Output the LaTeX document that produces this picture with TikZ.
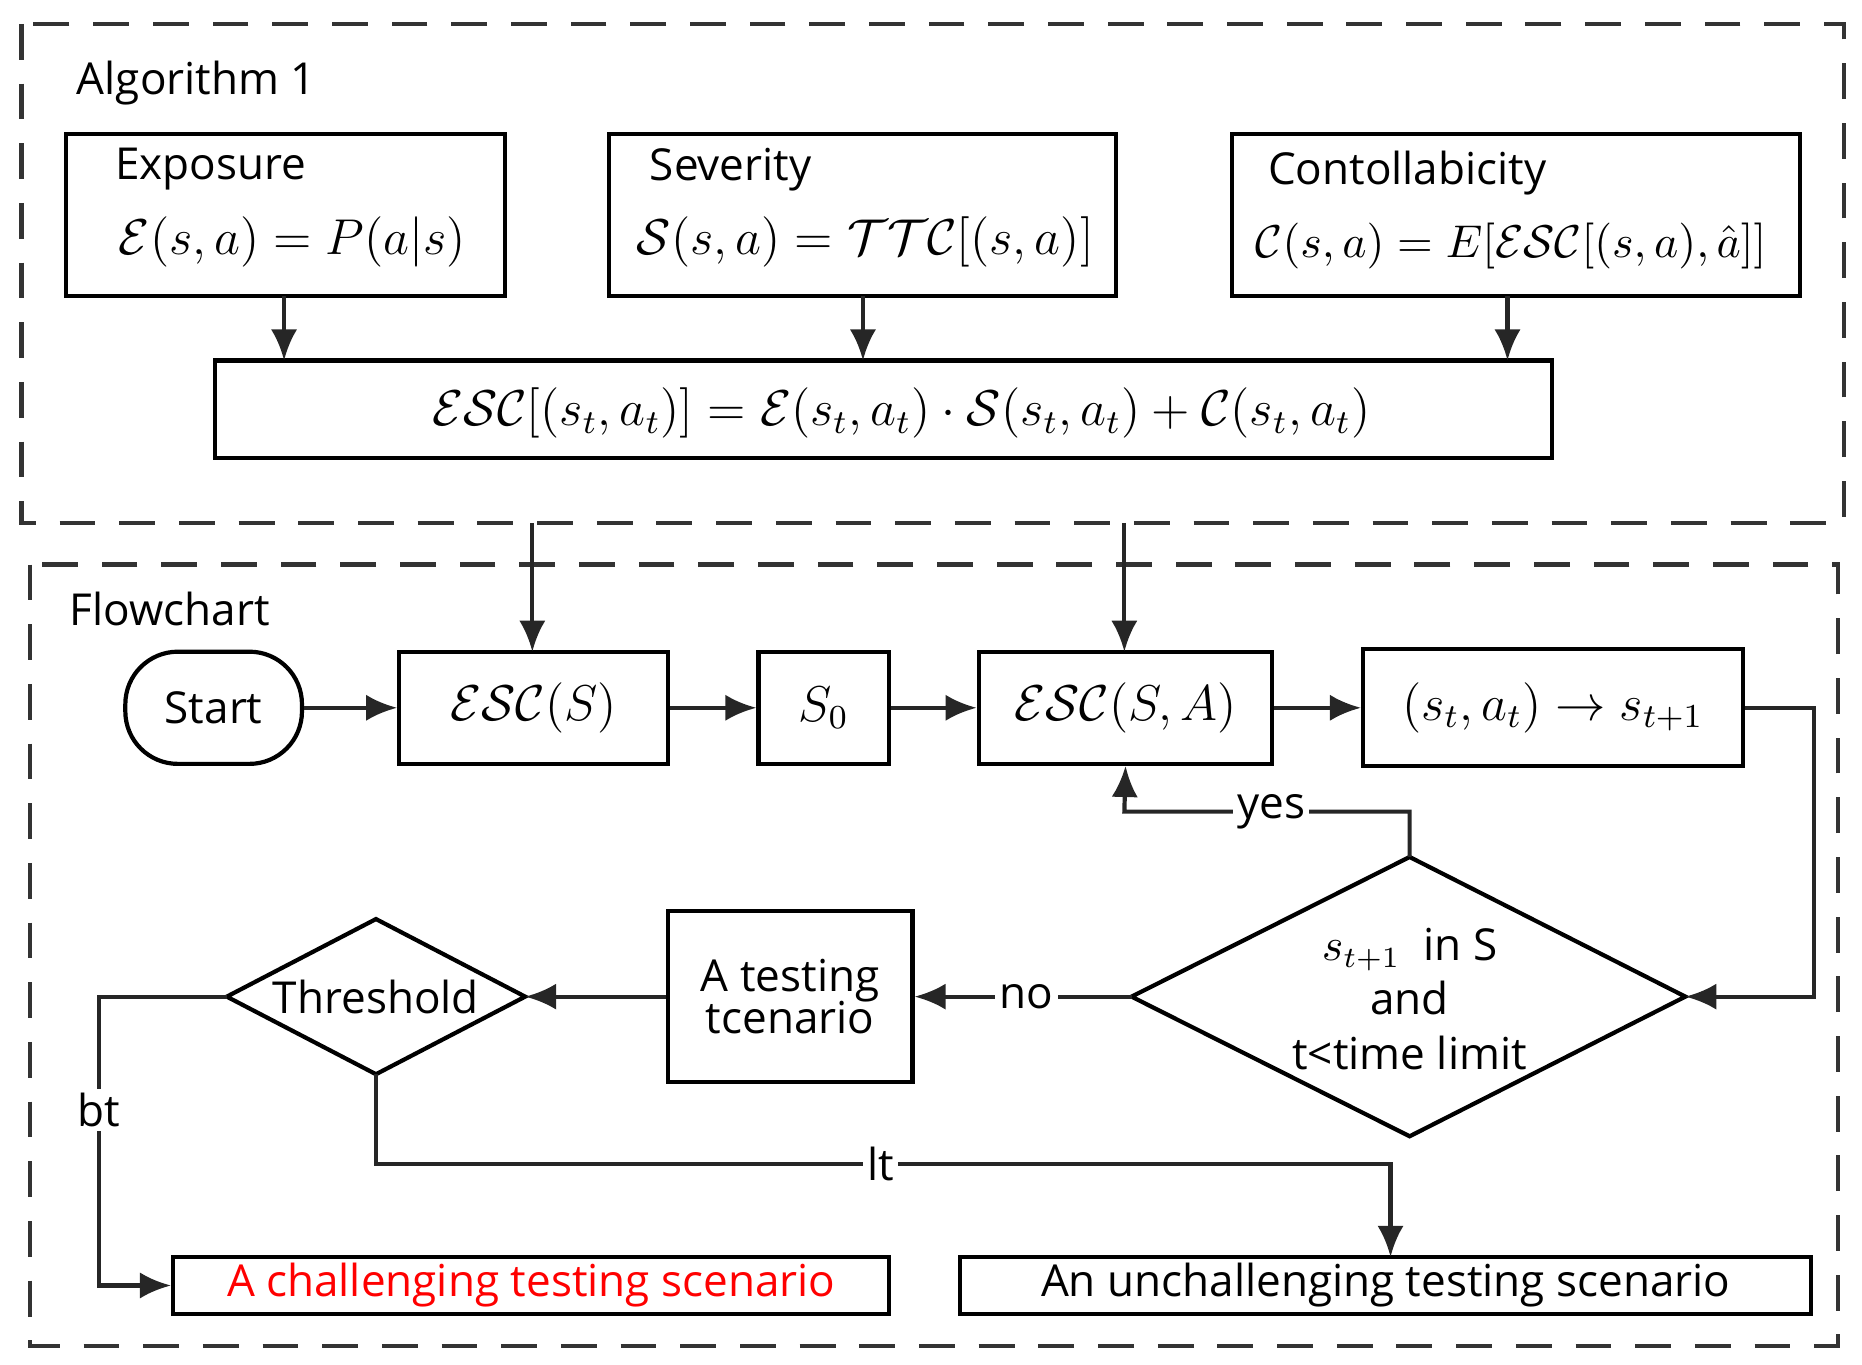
\documentclass[tikz,border=0pt]{standalone}
\usepackage{amsmath}
\usepackage{fontspec}
\setmainfont{Open Sans}
\usetikzlibrary{shapes.geometric,arrows.meta}
\begin{document}
\begin{tikzpicture}[x=0.1mm,y=-0.1mm,
  every node/.style={font=\fontsize{10.5}{12}\selectfont},
  box/.style={draw,line width=1pt,inner sep=0pt},
  ln/.style={line width=1pt,draw=black!85},
  ar/.style={ln,-{Latex[length=2.6mm,width=2.2mm]}},
  frame/.style={line width=1pt,dash pattern=on 3mm off 2mm,draw=black!80},
  lab/.style={fill=white,inner sep=1pt},
  fm/.style={font=\fontsize{12}{14}\selectfont}]
\useasboundingbox (0,0) rectangle (1560,1143);
\draw[frame] (18,20) rectangle (1545,438);
\draw[frame] (25,473) rectangle (1540,1128);
\node[anchor=west] (alg) at (52,70) {Algorithm 1};
\node[anchor=west] (flow) at (46,510) {Flowchart};
% top boxes
\draw[box] (55,112) rectangle (423,248);
\node[anchor=west] (ex) at (84,142) {Exposure};
\node[fm] (exf) at (245,203) {$\mathcal{E}(s,a)=P(a|s)$};
\draw[box] (510,112) rectangle (935,248);
\node[anchor=west] (se) at (532,142) {Severity};
\node[fm] (sef) at (725,203) {$\mathcal{S}(s,a)=\mathcal{TTC}[(s,a)]$};
\draw[box] (1032,112) rectangle (1508,248);
\node[anchor=west] (co) at (1050,145) {Contollabicity};
\node[font=\fontsize{11}{13}\selectfont] (cof) at (1266,206) {$\mathcal{C}(s,a)=E[\mathcal{ESC}[(s,a),\hat{a}]]$};
\draw[box] (180,302) rectangle (1300,384);
\node[fm] (escf) at (755,346) {$\mathcal{ESC}[(s_t,a_t)]=\mathcal{E}(s_t,a_t)\cdot\mathcal{S}(s_t,a_t)+\mathcal{C}(s_t,a_t)$};
\coordinate (e1) at (238,248); \coordinate (e2) at (238,302);
\coordinate (s1) at (723,248); \coordinate (s2) at (723,302);
\coordinate (c1) at (1263,248); \coordinate (c2) at (1263,302);
\draw[ar] (e1)--(e2); \draw[ar] (s1)--(s2); \draw[ar] (c1)--(c2);
% flowchart
\node[box,rounded corners=4.4mm,minimum width=14.8mm,minimum height=9.4mm] (start) at (179,593) {Start};
\node[box,minimum width=22.5mm,minimum height=9.4mm,fm] (escs) at (447,593) {$\mathcal{ESC}(S)$};
\node[box,minimum width=10.9mm,minimum height=9.4mm,fm] (s0) at (690,593) {$S_0$};
\node[box,minimum width=24.6mm,minimum height=9.4mm,fm] (escsa) at (943,593) {$\mathcal{ESC}(S,A)$};
\node[box,minimum width=31.8mm,minimum height=9.8mm,fm] (st) at (1301,593) {$(s_t,a_t)\rightarrow s_{t+1}$};
\coordinate (t1) at (446,438); \coordinate (t2) at (942,438);
\draw[ar] (t1)--(446,546); \draw[ar] (t2)--(942,546);
\draw[ar] (start)--(escs); \draw[ar] (escs)--(s0); \draw[ar] (s0)--(escsa); \draw[ar] (escsa)--(st);
% decision diamond
\coordinate (dn) at (1181,718); \coordinate (ds) at (1181,952);
\coordinate (dw) at (948,835); \coordinate (de) at (1412,835);
\draw[line width=1pt] (dn)--(de)--(ds)--(dw)--cycle;
\node[align=center] (dec) at (1181,837) {$s_{t+1}$\ \ in S\\[1pt] and\\[1pt] t<time limit};
\draw[ar] (st.east)--(1520,593)--(1520,835)--(de);
\draw[ar] (dn)--(1181,680)--(942,680)--(escsa.south);
\node[lab] (yes) at (1065,680) {yes};
\node[box,minimum width=20.5mm,minimum height=14.3mm,align=center] (test) at (662,835) {A testing\\[-2pt] tcenario};
\draw[ar] (dw)--(test.east);
\node[lab] (no) at (860,835) {no};
% threshold diamond
\coordinate (tn) at (315,770); \coordinate (ts) at (315,900);
\coordinate (tw) at (190,835); \coordinate (te) at (440,835);
\draw[line width=1pt] (tn)--(te)--(ts)--(tw)--cycle;
\node (thr) at (315,835) {Threshold};
\draw[ar] (test.west)--(te);
\node[box,minimum width=60mm,minimum height=4.8mm,text=red] (chal) at (445,1077) {A challenging testing scenario};
\node[box,minimum width=71.3mm,minimum height=4.8mm] (unch) at (1161,1077) {An unchallenging testing scenario};
\draw[ar] (tw)--(83,835)--(83,1077)--(chal.west);
\node[lab] (bt) at (83,930) {bt};
\draw[ar] (ts)--(315,975)--(1165,975)--(1165,1053);
\node[lab] (lt) at (738,975) {lt};
\end{tikzpicture}
\end{document}
